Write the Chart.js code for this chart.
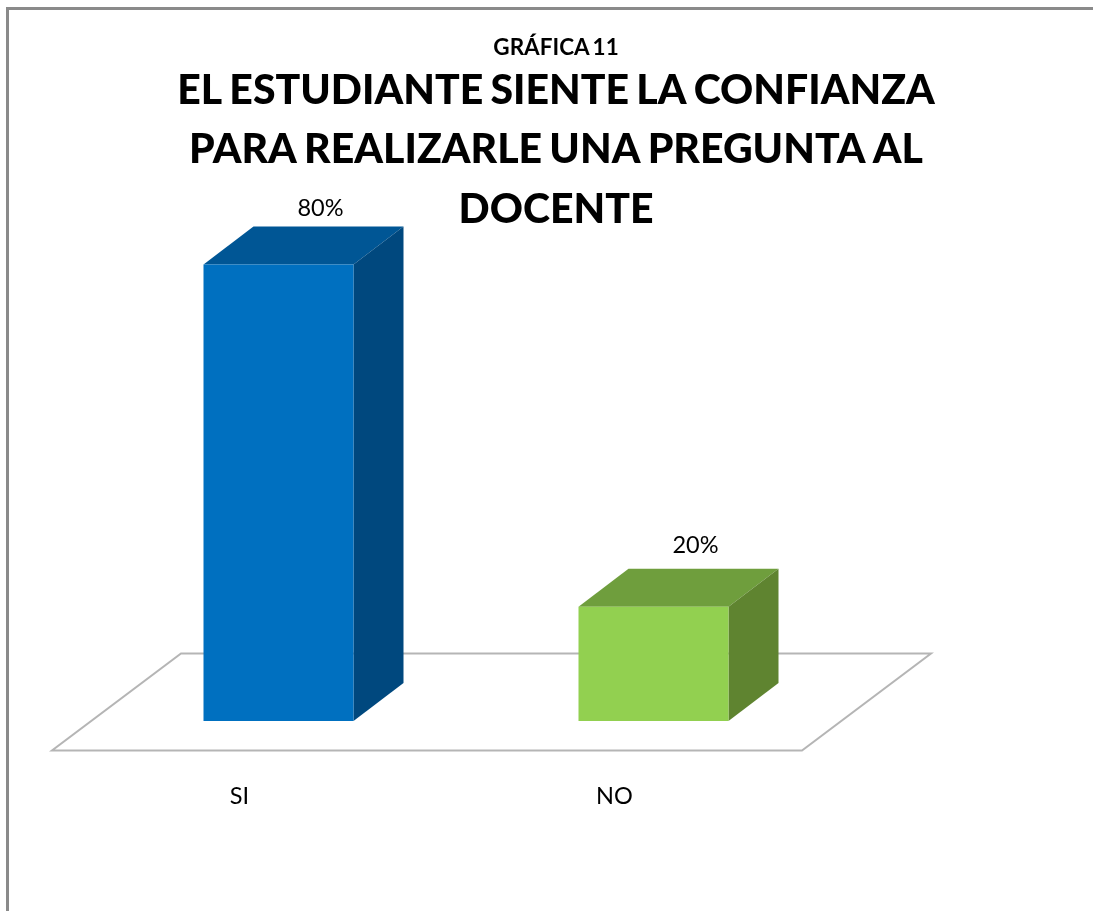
<!DOCTYPE html>
<html lang="es">
<head>
<meta charset="utf-8">
<style>html,body{margin:0;padding:0;background:#fff;overflow:hidden}canvas{display:block}#w{width:1093px;height:911px;position:relative}</style>
<script src="https://cdn.jsdelivr.net/npm/chart.js@4"></script>
</head>
<body>
<div id="w"><canvas id="c"></canvas></div>
<script>
const categories = ['SI', 'NO'];
const values = [0.8, 0.2];
const valueLabels = ['80%', '20%'];
const frontColors = ['#0070C0', '#92D050'];
const topColors = ['#005695', '#6F9E3D'];
const sideColors = ['#00487E', '#5F8430'];
const chartTitle = 'GRÁFICA 11';
const chartSubtitle = ['EL ESTUDIANTE SIENTE LA CONFIANZA', 'PARA REALIZARLE UNA PREGUNTA AL', 'DOCENTE'];

const DEPTH_X = 50, DEPTH_Y = 38;
const FLOOR_DX = 129, FLOOR_DY = 97, FLOOR_SHIFT_X = 39, FLOOR_SHIFT_Y = 29.5;
const labelShiftX = 42, labelLift = [56, 61];

function poly(ctx, pts, fill) {
  ctx.beginPath();
  pts.forEach((p, i) => i ? ctx.lineTo(p[0], p[1]) : ctx.moveTo(p[0], p[1]));
  ctx.closePath();
  ctx.fillStyle = fill;
  ctx.fill();
}

const box3d = {
  id: 'box3d',
  beforeDraw(chart) {
    const ctx = chart.ctx;
    ctx.save();
    ctx.fillStyle = '#fff';
    ctx.fillRect(0, 0, chart.width, chart.height);
    ctx.strokeStyle = '#8a8a8a';
    ctx.lineWidth = 3;
    ctx.beginPath();
    ctx.moveTo(7.5, chart.height);
    ctx.lineTo(7.5, 8.5);
    ctx.lineTo(chart.width, 8.5);
    ctx.stroke();
    ctx.restore();
    ctx.wordSpacing = '-2.5px';
  },
  beforeDatasetsDraw(chart) {
    const ctx = chart.ctx, a = chart.chartArea, y0 = chart.scales.y.getPixelForValue(0);
    ctx.wordSpacing = '0px';
    const fy = y0 + FLOOR_SHIFT_Y, fl = a.left - FLOOR_SHIFT_X, fr = a.right - FLOOR_SHIFT_X;
    ctx.save();
    ctx.strokeStyle = '#b5b5b5';
    ctx.lineWidth = 2;
    ctx.lineJoin = 'miter';
    ctx.beginPath();
    ctx.moveTo(fl, fy);
    ctx.lineTo(fr, fy);
    ctx.lineTo(fr + FLOOR_DX, fy - FLOOR_DY);
    ctx.lineTo(fl + FLOOR_DX, fy - FLOOR_DY);
    ctx.closePath();
    ctx.stroke();
    chart.getDatasetMeta(0).data.forEach((bar, i) => {
      const l = bar.x - bar.width / 2, r = bar.x + bar.width / 2;
      poly(ctx, [[l, bar.y], [r, bar.y], [r + DEPTH_X, bar.y - DEPTH_Y], [l + DEPTH_X, bar.y - DEPTH_Y]], topColors[i]);
      poly(ctx, [[r, bar.y], [r + DEPTH_X, bar.y - DEPTH_Y], [r + DEPTH_X, bar.base - DEPTH_Y], [r, bar.base]], sideColors[i]);
    });
    ctx.restore();
  },
  afterDatasetsDraw(chart) {
    const ctx = chart.ctx;
    ctx.save();
    ctx.font = '23.5px Lato';
    ctx.fillStyle = '#000';
    ctx.textAlign = 'center';
    ctx.textBaseline = 'middle';
    chart.getDatasetMeta(0).data.forEach((bar, i) => {
      ctx.fillText(valueLabels[i], bar.x + labelShiftX, bar.y - labelLift[i]);
    });
    ctx.restore();
  }
};

new Chart(document.getElementById('c'), {
  type: 'bar',
  plugins: [box3d],
  data: {
    labels: categories,
    datasets: [{
      data: values,
      backgroundColor: frontColors,
      borderWidth: 0,
      categoryPercentage: 1,
      barPercentage: 0.4
    }]
  },
  options: {
    responsive: true,
    maintainAspectRatio: false,
    animation: false,
    layout: { padding: { left: 20, right: 1, top: 10, bottom: 0 } },
    plugins: {
      legend: { display: false },
      tooltip: { enabled: false },
      title: {
        display: true, text: chartTitle, color: '#000',
        font: { family: 'Lato', size: 22.5, weight: 'bold', lineHeight: 1.2 },
        padding: { top: 24, bottom: 0 }
      },
      subtitle: {
        display: true, text: chartSubtitle, color: '#000',
        font: { family: 'Lato', size: 41, weight: 900, lineHeight: 1.45 },
        padding: { top: 0, bottom: 0 }
      }
    },
    scales: {
      x: {
        grid: { display: false, drawTicks: false },
        border: { display: false },
        ticks: { color: '#000', font: { family: 'Lato', size: 23.5 }, padding: 61, labelOffset: -39, maxRotation: 0, z: 1 },
        afterFit(s) { s.height = 190; }
      },
      y: {
        min: 0, max: 0.844,
        grid: { display: false, drawTicks: false },
        border: { display: false },
        ticks: { display: false },
        afterFit(s) { s.width = 71; }
      },
      spacer: {
        axis: 'y', position: 'right',
        grid: { display: false, drawTicks: false },
        border: { display: false },
        ticks: { display: false },
        afterFit(s) { s.width = 251; }
      }
    }
  }
});
</script>
</body>
</html>
